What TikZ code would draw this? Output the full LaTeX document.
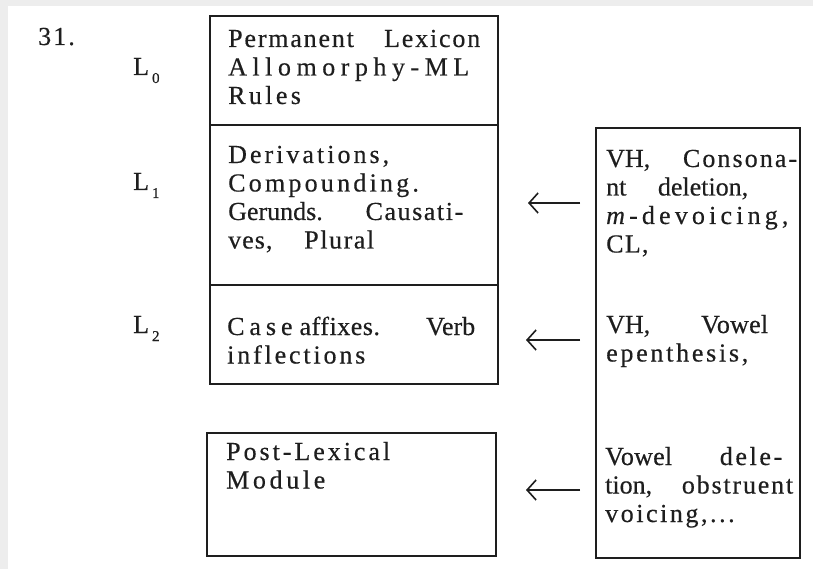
\documentclass[tikz,border=0pt]{standalone}
\usepackage{fontspec}
\usetikzlibrary{arrows.meta}
\newfontfamily\tf[LetterSpace=10,FakeBold=0.4]{Liberation Serif}
\definecolor{ink}{HTML}{1E1E1E}
\definecolor{edge}{HTML}{EDEDED}
\newcommand{\jl}[2]{\leavevmode\hbox to #1pt{#2}}
\newcommand{\ls}[2]{{\addfontfeature{LetterSpace=#1}#2}}
\newcommand{\subn}[1]{\hspace{3pt}\raisebox{-8pt}{\fontsize{15}{15}\selectfont #1}}
\begin{document}
\begin{tikzpicture}[x=1pt,y=-1pt,
  box/.style={draw=ink,line width=1.6pt,anchor=north west,inner sep=0pt},
  txt/.style={anchor=base west,inner sep=0pt,text width=280pt,align=left,text=ink,
    font=\tf\fontsize{26}{28.5}\selectfont},
  lab/.style={anchor=base west,inner sep=0pt,text=ink,font=\tf\fontsize{26}{28.5}\selectfont},
  arr/.style={draw=ink,line width=1.6pt,-{Straight Barb[length=9pt,width=20pt,line width=1.6pt]}}]
\useasboundingbox (0,0) rectangle (813,569);
\fill[edge] (0,0) rectangle (813,569);
\fill[white] (8,6) rectangle (813,569);
% boxes
\node[box,minimum width=288pt,minimum height=109pt] (b0) at (209,15) {};
\node[box,minimum width=288pt,minimum height=160pt] (b1) at (209,124) {};
\node[box,minimum width=288pt,minimum height=99pt] (b2) at (209,284) {};
\node[box,minimum width=289pt,minimum height=123pt] (bp) at (206,432) {};
\node[box,minimum width=204pt,minimum height=430pt] (br) at (595,127) {};
% labels
\node[lab] (n31) at (38,45) {\ls{8}{31.}};
\node[lab] (l0) at (133,75) {L\subn{0}};
\node[lab] (l1) at (133,190) {L\subn{1}};
\node[lab] (l2) at (133,333) {L\subn{2}};
% texts
\node[txt] (t0) at (228,47) {\jl{252}{\ls{7}{Permanent}\hfill\ls{7}{Lexicon}}\\
  \jl{241}{A\hfil l\hfil l\hfil o\hfil m\hfil o\hfil r\hfil p\hfil h\hfil y\hfil -\hfil M\hfil L}\\
  \ls{13}{Rules}};
\node[txt] (t1) at (228,163) {\ls{11.6}{Derivations,}\\ \ls{12.4}{Compounding.}\\
  \jl{235}{\ls{0}{Gerunds.}\hfill\ls{6}{Causati-}}\\ \jl{146}{\ls{4}{ves,}\hfill\ls{6}{Plural}}};
\node[txt] (t2) at (227,335) {\jl{248}{\ls{19}{Case}\hspace{7pt}\ls{2}{affixes.}\hfill\ls{0}{Verb}}\\ \ls{10.9}{inflections}};
\node[txt] (tp) at (226,460) {\ls{11.4}{Post-Lexical}\\ \ls{14}{Module}};
\node[txt,text width=200pt] (r1) at (606,167) {\jl{191}{\ls{0}{VH,}\hfill\ls{8}{Consona-}}\\
  \jl{142}{\ls{0}{nt}\hfill\ls{0}{deletion,}}\\ \ls{16}{\textit{m}-devoicing,}\\ \ls{5}{CL,}};
\node[txt,text width=200pt] (r2) at (606,333) {\jl{162}{\ls{0}{VH,}\hfill\ls{1}{Vowel}}\\ \ls{10.5}{epenthesis,}};
\node[txt,text width=200pt] (r3) at (605,465) {\jl{177}{\ls{1}{Vowel}\hfill\ls{10}{dele-}}\\
  \jl{188}{\ls{0}{tion,}\hfill\ls{7}{obstruent}}\\ \ls{9.8}{voicing,...}};
% arrows
\coordinate (a1s) at (580,203); \coordinate (a1e) at (528,203);
\coordinate (a2s) at (580,340); \coordinate (a2e) at (526,340);
\coordinate (a3s) at (580,490); \coordinate (a3e) at (526,490);
\draw[arr] (a1s) -- (a1e);
\draw[arr] (a2s) -- (a2e);
\draw[arr] (a3s) -- (a3e);
\end{tikzpicture}
\end{document}
